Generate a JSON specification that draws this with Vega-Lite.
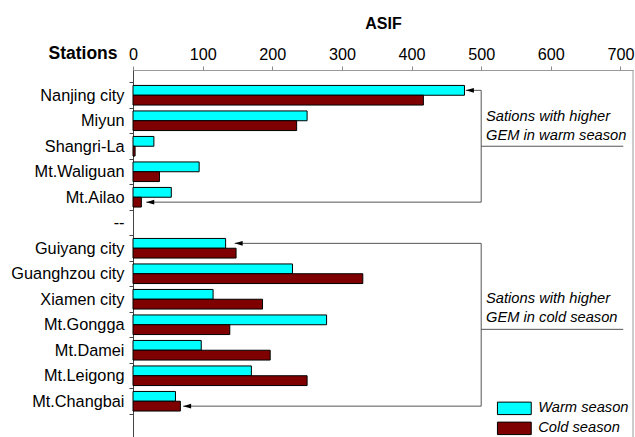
{
  "$schema": "https://vega.github.io/schema/vega-lite/v6.json",
  "width": 500,
  "height": 367,
  "autosize": {"type": "none"},
  "padding": {"left": 133, "top": 70, "right": 2, "bottom": 0},
  "background": "white",
  "config": {
    "font": "Liberation Sans",
    "view": {"stroke": null},
    "axisX": {"titleFontSize": 16, "titleFontWeight": "bold", "titleColor": "black", "titleX": 250, "titleY": -41.7, "titleAlign": "center", "titleBaseline": "alphabetic", "labelFontSize": 16.2, "labelColor": "black", "labelPadding": 4, "labelFlush": false, "labelOverlap": false, "tickSize": 4, "tickColor": "#888", "domainColor": "#999", "grid": false},
    "axisY": {"titleAngle": 0, "titleAlign": "right", "titleBaseline": "alphabetic", "titleX": -16, "titleY": -11.7, "titleFontSize": 17.5, "titleFontWeight": "bold", "titleColor": "black", "labelFontSize": 16.3, "labelColor": "black", "labelPadding": 5, "tickBand": "extent", "tickSize": 4, "tickColor": "#444", "domainColor": "#444", "grid": false}
  },
  "datasets": {
    "bars": [
      {"station": "Nanjing city", "season": "Warm season", "asif": 476},
      {"station": "Nanjing city", "season": "Cold season", "asif": 417},
      {"station": "Miyun", "season": "Warm season", "asif": 250},
      {"station": "Miyun", "season": "Cold season", "asif": 235},
      {"station": "Shangri-La", "season": "Warm season", "asif": 30},
      {"station": "Shangri-La", "season": "Cold season", "asif": 3},
      {"station": "Mt.Waliguan", "season": "Warm season", "asif": 95},
      {"station": "Mt.Waliguan", "season": "Cold season", "asif": 38},
      {"station": "Mt.Ailao", "season": "Warm season", "asif": 55},
      {"station": "Mt.Ailao", "season": "Cold season", "asif": 12},
      {"station": "Guiyang city", "season": "Warm season", "asif": 133},
      {"station": "Guiyang city", "season": "Cold season", "asif": 148},
      {"station": "Guanghzou city", "season": "Warm season", "asif": 229},
      {"station": "Guanghzou city", "season": "Cold season", "asif": 330},
      {"station": "Xiamen city", "season": "Warm season", "asif": 115},
      {"station": "Xiamen city", "season": "Cold season", "asif": 186},
      {"station": "Mt.Gongga", "season": "Warm season", "asif": 278},
      {"station": "Mt.Gongga", "season": "Cold season", "asif": 139},
      {"station": "Mt.Damei", "season": "Warm season", "asif": 98},
      {"station": "Mt.Damei", "season": "Cold season", "asif": 197},
      {"station": "Mt.Leigong", "season": "Warm season", "asif": 170},
      {"station": "Mt.Leigong", "season": "Cold season", "asif": 250},
      {"station": "Mt.Changbai", "season": "Warm season", "asif": 61},
      {"station": "Mt.Changbai", "season": "Cold season", "asif": 68}
    ],
    "topArms": [
      {"station": "Nanjing city", "from": 478, "to": 500},
      {"station": "Guiyang city", "from": 146, "to": 500}
    ],
    "bottomArms": [
      {"station": "Mt.Ailao", "from": 19, "to": 500},
      {"station": "Mt.Changbai", "from": 72, "to": 500}
    ],
    "spines": [
      {"start": "Nanjing city", "end": "Mt.Ailao", "asif": 500},
      {"start": "Guiyang city", "end": "Mt.Changbai", "asif": 500}
    ],
    "warmNote": [{"station": "Miyun", "asif": 507, "label": ["Sations with higher", "GEM in warm season"]}],
    "coldNote": [{"station": "Xiamen city", "asif": 507, "label": ["Sations with higher", "GEM in cold season"]}],
    "warmLine": [{"station": "Shangri-La", "from": 500, "to": 704}],
    "coldLine": [{"station": "Mt.Gongga", "from": 500, "to": 704}],
    "frame": [{"edge": 718}]
  },
  "layer": [
    {
      "data": {"name": "bars"},
      "mark": {"type": "bar", "stroke": "black", "strokeWidth": 1},
      "encoding": {
        "y": {
          "field": "station", "type": "nominal", "sort": null,
          "scale": {"domain": ["Nanjing city", "Miyun", "Shangri-La", "Mt.Waliguan", "Mt.Ailao", "--", "Guiyang city", "Guanghzou city", "Xiamen city", "Mt.Gongga", "Mt.Damei", "Mt.Leigong", "Mt.Changbai"], "paddingInner": 0, "paddingOuter": 0.696, "align": 0.352},
          "axis": {"orient": "left", "title": "Stations"}
        },
        "yOffset": {"field": "season", "type": "nominal", "sort": ["Warm season", "Cold season"], "scale": {"paddingInner": 0, "paddingOuter": 0.3}},
        "x": {
          "field": "asif", "type": "quantitative",
          "scale": {"domain": [0, 718], "nice": false},
          "axis": {"orient": "top", "title": "ASIF", "values": [0, 100, 200, 300, 400, 500, 600, 700]}
        },
        "color": {
          "field": "season", "type": "nominal",
          "scale": {"domain": ["Warm season", "Cold season"], "range": ["#00FFFF", "#7F0000"]},
          "legend": {
            "orient": "none", "legendX": 374, "legendY": 331, "title": null, "padding": 0,
            "symbolType": "M-2.6,-0.96L2.6,-0.96L2.6,0.96L-2.6,0.96Z", "symbolSize": 169,
            "symbolStrokeColor": "black", "symbolStrokeWidth": 1, "symbolOpacity": 1,
            "labelFontSize": 14.7, "labelFontStyle": "italic", "labelColor": "black", "labelOffset": 16.5, "rowPadding": 3
          }
        }
      }
    },
    {
      "data": {"name": "topArms"},
      "mark": {"type": "rule", "color": "#555", "strokeWidth": 1},
      "encoding": {
        "y": {"field": "station", "type": "nominal", "bandPosition": 0.308, "scale": {"domain": ["Nanjing city", "Miyun", "Shangri-La", "Mt.Waliguan", "Mt.Ailao", "--", "Guiyang city", "Guanghzou city", "Xiamen city", "Mt.Gongga", "Mt.Damei", "Mt.Leigong", "Mt.Changbai"]}, "axis": {"orient": "left", "title": "Stations"}},
        "x": {"field": "from", "type": "quantitative", "scale": {"domain": [0, 718], "nice": false}, "axis": {"orient": "top", "title": "ASIF", "values": [0, 100, 200, 300, 400, 500, 600, 700]}},
        "x2": {"field": "to"}
      }
    },
    {
      "data": {"name": "bottomArms"},
      "mark": {"type": "rule", "color": "#555", "strokeWidth": 1},
      "encoding": {
        "y": {"field": "station", "type": "nominal", "bandPosition": 0.692, "scale": {"domain": ["Nanjing city", "Miyun", "Shangri-La", "Mt.Waliguan", "Mt.Ailao", "--", "Guiyang city", "Guanghzou city", "Xiamen city", "Mt.Gongga", "Mt.Damei", "Mt.Leigong", "Mt.Changbai"]}, "axis": {"orient": "left", "title": "Stations"}},
        "x": {"field": "from", "type": "quantitative", "scale": {"domain": [0, 718], "nice": false}, "axis": {"orient": "top", "title": "ASIF", "values": [0, 100, 200, 300, 400, 500, 600, 700]}},
        "x2": {"field": "to"}
      }
    },
    {
      "data": {"name": "spines"},
      "mark": {"type": "rule", "color": "#555", "strokeWidth": 1},
      "encoding": {
        "y": {"field": "start", "type": "nominal", "bandPosition": 0.308, "scale": {"domain": ["Nanjing city", "Miyun", "Shangri-La", "Mt.Waliguan", "Mt.Ailao", "--", "Guiyang city", "Guanghzou city", "Xiamen city", "Mt.Gongga", "Mt.Damei", "Mt.Leigong", "Mt.Changbai"]}, "axis": {"orient": "left", "title": "Stations"}},
        "y2": {"field": "end", "bandPosition": 0.692},
        "x": {"field": "asif", "type": "quantitative", "scale": {"domain": [0, 718], "nice": false}, "axis": {"orient": "top", "title": "ASIF", "values": [0, 100, 200, 300, 400, 500, 600, 700]}}
      }
    },
    {
      "data": {"name": "topArms"},
      "mark": {"type": "point", "shape": "M0,0L1,-0.3L1,0.3Z", "size": 256, "filled": true, "color": "black", "opacity": 1},
      "encoding": {
        "y": {"field": "station", "type": "nominal", "bandPosition": 0.308, "scale": {"domain": ["Nanjing city", "Miyun", "Shangri-La", "Mt.Waliguan", "Mt.Ailao", "--", "Guiyang city", "Guanghzou city", "Xiamen city", "Mt.Gongga", "Mt.Damei", "Mt.Leigong", "Mt.Changbai"]}, "axis": {"orient": "left", "title": "Stations"}},
        "x": {"field": "from", "type": "quantitative", "scale": {"domain": [0, 718], "nice": false}, "axis": {"orient": "top", "title": "ASIF", "values": [0, 100, 200, 300, 400, 500, 600, 700]}}
      }
    },
    {
      "data": {"name": "bottomArms"},
      "mark": {"type": "point", "shape": "M0,0L1,-0.3L1,0.3Z", "size": 256, "filled": true, "color": "black", "opacity": 1},
      "encoding": {
        "y": {"field": "station", "type": "nominal", "bandPosition": 0.692, "scale": {"domain": ["Nanjing city", "Miyun", "Shangri-La", "Mt.Waliguan", "Mt.Ailao", "--", "Guiyang city", "Guanghzou city", "Xiamen city", "Mt.Gongga", "Mt.Damei", "Mt.Leigong", "Mt.Changbai"]}, "axis": {"orient": "left", "title": "Stations"}},
        "x": {"field": "from", "type": "quantitative", "scale": {"domain": [0, 718], "nice": false}, "axis": {"orient": "top", "title": "ASIF", "values": [0, 100, 200, 300, 400, 500, 600, 700]}}
      }
    },
    {
      "data": {"name": "warmNote"},
      "mark": {"type": "text", "align": "left", "baseline": "middle", "fontSize": 14.7, "fontStyle": "italic", "lineHeight": 19, "color": "black"},
      "encoding": {
        "y": {"field": "station", "type": "nominal", "bandPosition": 0.34, "scale": {"domain": ["Nanjing city", "Miyun", "Shangri-La", "Mt.Waliguan", "Mt.Ailao", "--", "Guiyang city", "Guanghzou city", "Xiamen city", "Mt.Gongga", "Mt.Damei", "Mt.Leigong", "Mt.Changbai"]}, "axis": {"orient": "left", "title": "Stations"}},
        "x": {"field": "asif", "type": "quantitative", "scale": {"domain": [0, 718], "nice": false}, "axis": {"orient": "top", "title": "ASIF", "values": [0, 100, 200, 300, 400, 500, 600, 700]}},
        "text": {"field": "label"}
      }
    },
    {
      "data": {"name": "coldNote"},
      "mark": {"type": "text", "align": "left", "baseline": "middle", "fontSize": 14.7, "fontStyle": "italic", "lineHeight": 19, "color": "black"},
      "encoding": {
        "y": {"field": "station", "type": "nominal", "bandPosition": 0.5, "scale": {"domain": ["Nanjing city", "Miyun", "Shangri-La", "Mt.Waliguan", "Mt.Ailao", "--", "Guiyang city", "Guanghzou city", "Xiamen city", "Mt.Gongga", "Mt.Damei", "Mt.Leigong", "Mt.Changbai"]}, "axis": {"orient": "left", "title": "Stations"}},
        "x": {"field": "asif", "type": "quantitative", "scale": {"domain": [0, 718], "nice": false}, "axis": {"orient": "top", "title": "ASIF", "values": [0, 100, 200, 300, 400, 500, 600, 700]}},
        "text": {"field": "label"}
      }
    },
    {
      "data": {"name": "warmLine"},
      "mark": {"type": "rule", "color": "#555", "strokeWidth": 1},
      "encoding": {
        "y": {"field": "station", "type": "nominal", "bandPosition": 0.5, "scale": {"domain": ["Nanjing city", "Miyun", "Shangri-La", "Mt.Waliguan", "Mt.Ailao", "--", "Guiyang city", "Guanghzou city", "Xiamen city", "Mt.Gongga", "Mt.Damei", "Mt.Leigong", "Mt.Changbai"]}, "axis": {"orient": "left", "title": "Stations"}},
        "x": {"field": "from", "type": "quantitative", "scale": {"domain": [0, 718], "nice": false}, "axis": {"orient": "top", "title": "ASIF", "values": [0, 100, 200, 300, 400, 500, 600, 700]}},
        "x2": {"field": "to"}
      }
    },
    {
      "data": {"name": "coldLine"},
      "mark": {"type": "rule", "color": "#555", "strokeWidth": 1},
      "encoding": {
        "y": {"field": "station", "type": "nominal", "bandPosition": 0.68, "scale": {"domain": ["Nanjing city", "Miyun", "Shangri-La", "Mt.Waliguan", "Mt.Ailao", "--", "Guiyang city", "Guanghzou city", "Xiamen city", "Mt.Gongga", "Mt.Damei", "Mt.Leigong", "Mt.Changbai"]}, "axis": {"orient": "left", "title": "Stations"}},
        "x": {"field": "from", "type": "quantitative", "scale": {"domain": [0, 718], "nice": false}, "axis": {"orient": "top", "title": "ASIF", "values": [0, 100, 200, 300, 400, 500, 600, 700]}},
        "x2": {"field": "to"}
      }
    },
    {
      "data": {"name": "frame"},
      "mark": {"type": "rule", "color": "#999", "strokeWidth": 1},
      "encoding": {
        "x": {"field": "edge", "type": "quantitative", "scale": {"domain": [0, 718], "nice": false}, "axis": {"orient": "top", "title": "ASIF", "values": [0, 100, 200, 300, 400, 500, 600, 700]}}
      }
    }
  ]
}
